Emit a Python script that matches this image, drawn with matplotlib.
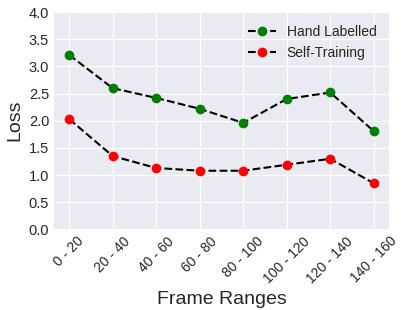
import numpy as np
import matplotlib
matplotlib.use('Agg')
import matplotlib.pyplot as plt

ranges = ['0 - 20', '20 - 40', '40 - 60', '60 - 80', '80 - 100',
          '100 - 120', '120 - 140', '140 - 160']
hand_labelled = [3.21, 2.60, 2.42, 2.22, 1.96, 2.40, 2.52, 1.81]
self_training = [2.03, 1.35, 1.13, 1.08, 1.08, 1.19, 1.30, 0.85]

plt.style.use('seaborn-v0_8-darkgrid')
plt.rcParams['font.family'] = ['Liberation Sans', 'DejaVu Sans']

fig, ax = plt.subplots(figsize=(4.03, 3.10), dpi=100)
x = np.arange(len(ranges))
ax.plot(x, hand_labelled, 'k--', marker='o', markerfacecolor='green',
        markeredgecolor='green', markersize=6, label='Hand Labelled')
ax.plot(x, self_training, 'k--', marker='o', markerfacecolor='red',
        markeredgecolor='red', markersize=6, label='Self-Training')

ax.set_xticks(x)
ax.set_xticklabels(ranges, rotation=45, fontsize=10)
ax.set_ylim(0, 4)
ax.set_yticks(np.arange(0, 4.01, 0.5))
ax.tick_params(axis='y', labelsize=10.5)
ax.set_xlim(-0.35, 7.35)
ax.set_xlabel('Frame Ranges', fontsize=14)
ax.set_ylabel('Loss', fontsize=14)
ax.legend(fontsize=10, frameon=False)

plt.subplots_adjust(left=0.134, right=0.965, top=0.961, bottom=0.26)
plt.savefig('out.png', dpi=100)
